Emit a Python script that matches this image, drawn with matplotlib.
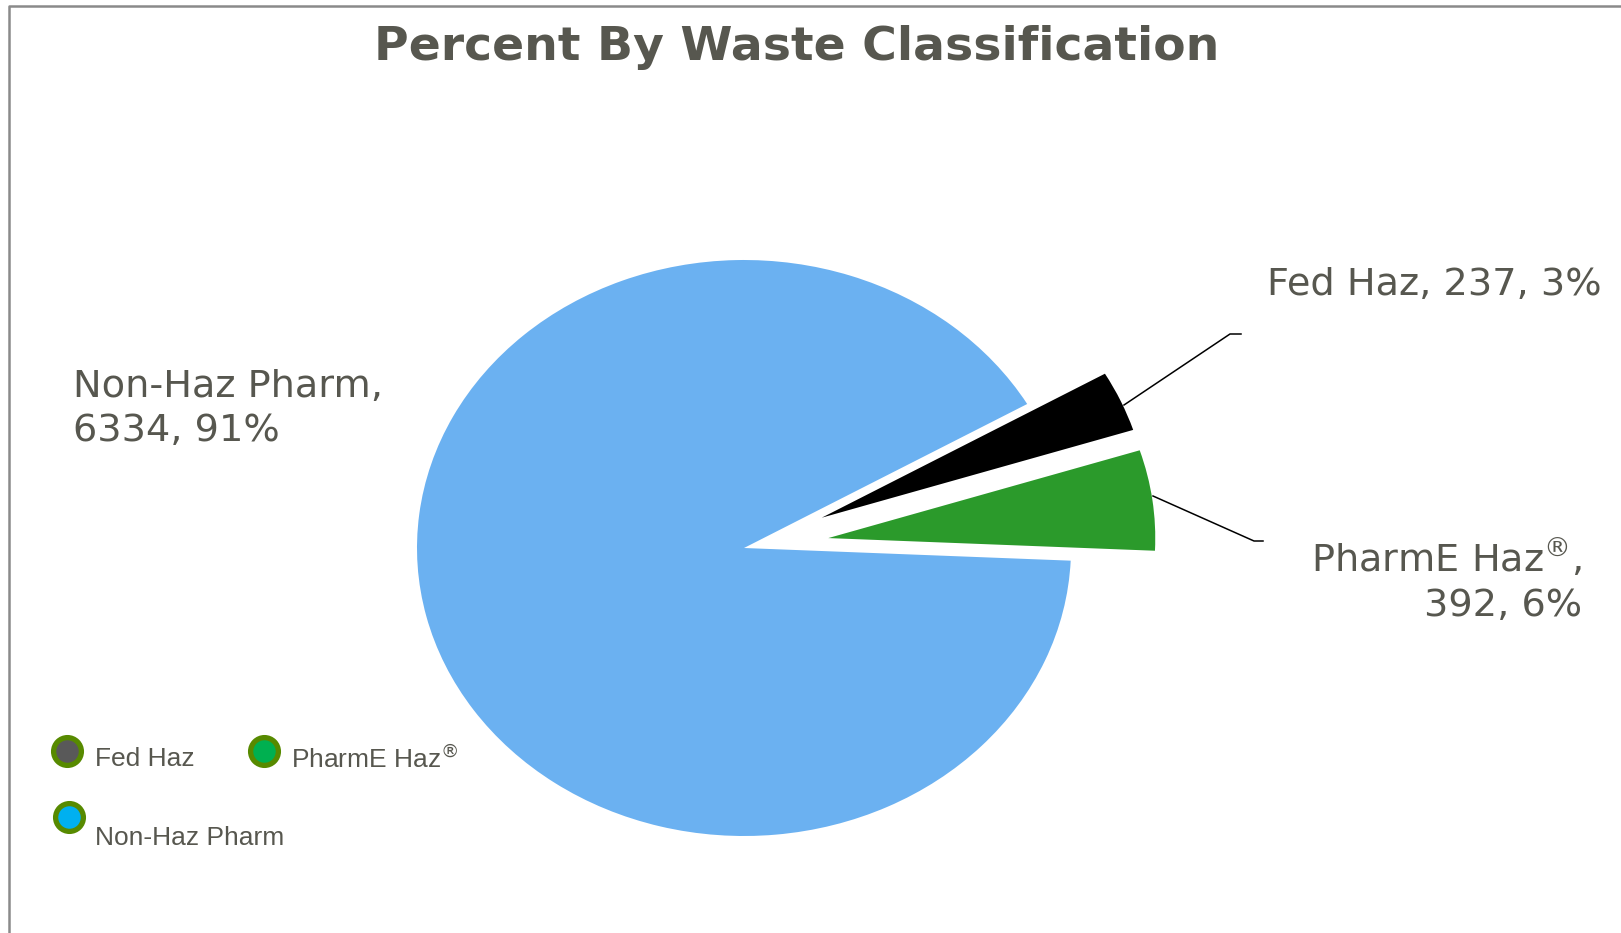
import matplotlib
matplotlib.use("Agg")
import matplotlib.pyplot as plt
from matplotlib.lines import Line2D

categories = ["Fed Haz", "PharmE Haz®", "Non-Haz Pharm"]
values = [237, 392, 6334]
pie_colors = ["#000000", "#2B9A2B", "#6BB1F1"]
legend_faces = ["#595959", "#00B050", "#00B0F0"]
title = "Percent By Waste Classification"

W, H = 1621, 933
fig = plt.figure(figsize=(W / 100, H / 100), dpi=100)
ax = fig.add_axes([0, 0, 1, 1])

cx, cy = 744, 548          # pie centre (px from top-left)
rx, ry = 327, 288          # px per data unit
ax.pie(values, colors=pie_colors, startangle=30.0, counterclock=False,
       explode=[0.26, 0.26, 0], radius=1,
       wedgeprops=dict(linewidth=0))
ax.set_aspect("auto")
ax.set_xlim(-cx / rx, (W - cx) / rx)
ax.set_ylim(-(H - cy) / ry, cy / ry)
ax.axis("off")

txt_col = "#57574F"
total = sum(values)
def fmt(name):
    return name.replace("®", "$^{®}$")
labels = [f"{fmt(c)}, {v}, {round(100 * v / total)}%" for c, v in zip(categories, values)]

def px(x, y):
    return (x / W, 1 - y / H)

fig.text(*px(797, 48), title, ha="center", va="center", fontsize=34,
         fontweight="bold", color=txt_col, family="DejaVu Sans")

# data labels
fig.text(*px(1267, 285), labels[0], ha="left", va="center", fontsize=27.5, color=txt_col)
l1 = labels[1].split(", ", 1)
fig.text(*px(1582, 581), l1[0] + ",\n" + l1[1], ha="right", va="center",
         fontsize=27.5, color=txt_col, multialignment="right", linespacing=1.28)
l2 = labels[2].split(", ", 1)
fig.text(*px(73, 409), l2[0] + ",\n" + l2[1], ha="left", va="center",
         fontsize=27.5, color=txt_col, linespacing=1.3)

# leader lines
for pts in ([(1124, 405), (1230, 334), (1241, 334)],
            [(1153, 496), (1254, 541), (1263, 541)]):
    xs = [p[0] / W for p in pts]
    ys = [1 - p[1] / H for p in pts]
    fig.add_artist(Line2D(xs, ys, color="black", lw=1.1))

# legend
leg_marker = [(67, 751), (264, 751), (69, 817)]
leg_text = [(95, 759), (291, 759), (95, 838)]
for c, f, (mx, my), (tx, ty) in zip(categories, legend_faces, leg_marker, leg_text):
    fig.add_artist(Line2D([mx / W], [1 - my / H], marker="o", markersize=20,
                          markerfacecolor=f, markeredgecolor="#578A00",
                          markeredgewidth=3.8, linestyle="none"))
    fig.text(*px(tx, ty), fmt(c), ha="left", va="center", fontsize=19,
             color=txt_col, family="Liberation Sans")

# chart-area border (top and left)
fig.add_artist(Line2D([9 / W, 9 / W, 1], [0, 1 - 6 / H, 1 - 6 / H],
                      color="#8A8A8A", lw=1.8))

fig.savefig("out.png", dpi=100, facecolor="white")
